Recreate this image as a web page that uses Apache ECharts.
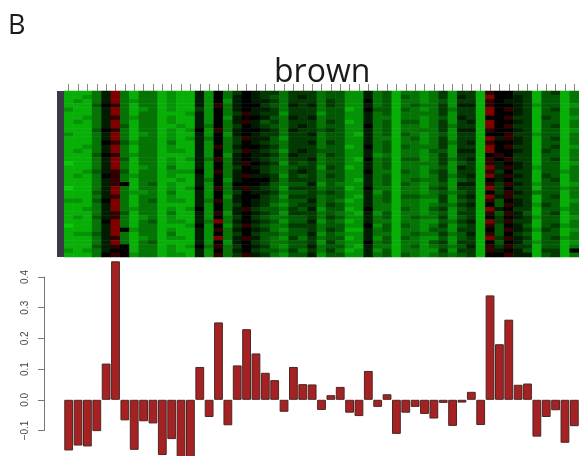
<!DOCTYPE html>
<html>
<head>
<meta charset="utf-8">
<style>html,body{margin:0;padding:0;background:#fff;overflow:hidden}#c{width:579px;height:456px;filter:blur(0.5px)}</style>
<script src="https://cdn.jsdelivr.net/npm/echarts@6/dist/echarts.min.js"></script>
</head>
<body>
<div id="c"></div>
<script>
const panelLabel = 'B';
const moduleName = 'brown';
const tickLabels = { '-0.1': '\u22120.1', '0': '0.0', '0.1': '0.1', '0.2': '0.2', '0.3': '0.3', '0.4': '0.4' };
const eigengene = [
  -0.165,-0.149,-0.152,-0.102,0.118,0.451,-0.067,-0.163,-0.070,-0.077,
  -0.180,-0.128,-0.200,-0.200,0.107,-0.056,0.252,-0.083,0.112,0.230,
  0.151,0.088,0.064,-0.039,0.107,0.051,0.050,-0.033,0.015,0.042,
  -0.042,-0.053,0.094,-0.023,0.018,-0.111,-0.042,-0.023,-0.046,-0.061,
  -0.010,-0.085,-0.009,0.026,-0.082,0.340,0.181,0.261,0.049,0.053,
  -0.120,-0.056,-0.034,-0.140,-0.086
];
const sideTrack = [1];
// Estimated shade per cell: 0 bright green .. 7 black .. 9 red
const shadeLevels = [-1,-0.857,-0.714,-0.571,-0.429,-0.286,-0.143,0,0.2,0.5];
const heatRows = [
  "11136 93133 12116 27357 65535 55344 22634 13323 52551 87755 14513",
  "11236 93133 12116 27367 65435 65344 22634 14323 52651 97765 14413",
  "12136 93233 12116 27267 66535 55354 22734 13323 42551 87665 14413",
  "11147 83133 12116 28367 75436 56354 22634 13433 52661 87765 24412",
  "21136 93123 12115 27367 66535 55344 12744 14323 53551 97865 14513",
  "11136 93133 11126 27358 65525 55244 22634 13333 52551 97765 14413",
  "11236 83233 12116 27267 76436 56344 22633 13323 42651 77855 15412",
  "12136 93133 12116 27368 64535 55354 12634 14423 52561 97765 14413",
  "11136 94133 11216 37357 65435 65344 22734 13323 53551 97855 14513",
  "11147 83133 12127 28367 76536 55454 22634 13333 52661 87765 14412",
  "21136 93123 12116 27267 65535 56344 21634 14323 42551 77855 24413",
  "11136 93133 12126 37358 66425 55344 22633 13423 52551 96865 14513",
  "11137 84233 13116 27357 65435 56354 22634 13323 53561 87765 14413",
  "11236 93133 12116 28367 76535 55344 12734 14333 52551 97855 14512",
  "12136 93133 12216 27358 65425 65444 22634 13324 42661 97765 15413",
  "11147 83233 11116 27267 66536 55354 22623 13323 52551 78755 14413",
  "11136 94133 12126 38367 65435 56344 21734 14423 53561 87855 14513",
  "01136 93133 12116 27368 76525 45344 22634 13333 52451 86765 14412",
  "11136 93123 13116 27357 65434 55254 12634 13323 42651 96865 24413",
  "11246 84133 12227 28367 75435 65344 22733 14324 52551 85755 14423",
  "12137 83233 12116 27368 66525 45354 22634 13323 53561 96865 15413",
  "11136 83133 11216 37267 77535 55344 21634 13433 52451 76755 14513",
  "11136 87134 12116 27377 76434 46243 22634 14323 42661 85865 24412",
  "01136 93133 12127 28368 65425 55344 12733 13324 52551 95755 14423",
  "11146 93223 13116 27357 66534 45454 22624 13323 43451 75865 34413",
  "11136 83133 12116 27267 75425 55344 21634 14433 52561 96855 14513",
  "22147 93134 12216 38367 65434 46343 12634 13322 52451 84765 14412",
  "11136 93133 11116 27357 65324 55354 22633 13323 43561 74865 25413",
  "11236 93233 12127 27368 54435 46244 12733 14324 52451 96755 14423",
  "11136 84133 13116 28267 65425 55343 21624 13323 42551 84864 14513",
  "12146 83123 12116 27357 54334 45354 22634 13433 52451 75765 24412",
  "11137 93134 12216 39367 65424 46243 12633 13322 43561 95855 14413",
  "01136 93133 11127 27258 54335 55344 22724 14323 52451 84764 14523",
  "11136 97233 12116 28367 65324 45354 11634 13324 42551 74865 25412",
  "12246 93133 13116 27357 54434 46243 22633 13433 53461 84754 14413",
  "11136 83123 12216 29368 64325 35344 12624 14322 42451 95865 14523",
  "11136 93134 11116 27267 54334 45253 22734 13324 52551 74764 24412",
  "11146 87133 12127 38357 65324 46344 21633 13423 43461 85855 14413",
  "21236 77133 12116 27367 54435 35353 12624 13322 52551 86764 15517",
  "11137 87233 12216 28358 65324 46244 22634 14323 43451 77866 14513"
];

const columns = eigengene.map((_, i) => String(i + 1));
const rows = heatRows.map((_, i) => String(i));
const cells = [];
heatRows.forEach((row, r) => {
  row.replace(/ /g, '').split('').forEach((d, c) => cells.push([c, r, shadeLevels[+d]]));
});

const PLOT_LEFT = 64, PLOT_WIDTH = 518;
const chart = echarts.init(document.getElementById('c'), null, { renderer: 'canvas' });
chart.setOption({
  animation: false,
  backgroundColor: '#ffffff',
  title: [
    { text: panelLabel, left: 3, top: 8, textStyle: { fontFamily: 'Open Sans', fontSize: 27, fontWeight: 'normal', color: '#1a1a1a' } },
    { text: moduleName, left: 269, top: 52, textStyle: { fontFamily: 'Open Sans', fontSize: 32, fontWeight: 'normal', color: '#1a1a1a' } }
  ],
  grid: [
    { left: PLOT_LEFT, width: PLOT_WIDTH, top: 91, height: 166 },
    { left: PLOT_LEFT, width: PLOT_WIDTH, top: 277, height: 153.5 },
    { left: 57, width: 7, top: 91, height: 166 }
  ],
  xAxis: [
    { type: 'category', gridIndex: 0, position: 'top', data: columns,
      axisLine: { show: false },
      axisTick: { show: true, interval: 0, alignWithLabel: true, length: 7, lineStyle: { color: '#8a8a80', width: 1 } },
      axisLabel: { show: false, interval: 0 }, splitLine: { show: false }, splitArea: { show: false } },
    { type: 'category', gridIndex: 1, data: columns, show: false },
    { type: 'category', gridIndex: 2, data: ['side'], show: false }
  ],
  yAxis: [
    { type: 'category', gridIndex: 0, inverse: true, data: rows, show: false },
    { type: 'value', gridIndex: 1, min: -0.1, max: 0.4, interval: 0.1,
      offset: 20,
      axisLine: { show: true, lineStyle: { color: '#777777', width: 1 } },
      axisTick: { show: true, length: 6, lineStyle: { color: '#777777', width: 1 } },
      splitLine: { show: false },
      axisLabel: { rotate: 90, margin: 14, fontFamily: 'Liberation Sans', fontSize: 10, color: '#444444',
        formatter: v => tickLabels[String(Math.round(v * 10) / 10)] } },
    { type: 'value', gridIndex: 2, min: 0, max: 1, show: false }
  ],
  visualMap: {
    show: false, seriesIndex: 0, dimension: 2, min: -1, max: 1,
    inRange: { color: ['#08cc08', '#000000', '#ff0000'] }
  },
  series: [
    { type: 'heatmap', xAxisIndex: 0, yAxisIndex: 0, data: cells, progressive: 0,
      itemStyle: { borderWidth: 0 }, emphasis: { disabled: true } },
    { type: 'bar', xAxisIndex: 1, yAxisIndex: 1, data: eigengene, barWidth: 8.8, clip: false,
      itemStyle: { color: '#a62222', borderColor: '#4a2626', borderWidth: 1 } },
    { type: 'bar', xAxisIndex: 2, yAxisIndex: 2, data: sideTrack, barWidth: '100%',
      itemStyle: { color: '#3a3a46' } }
  ]
});
</script>
</body>
</html>
